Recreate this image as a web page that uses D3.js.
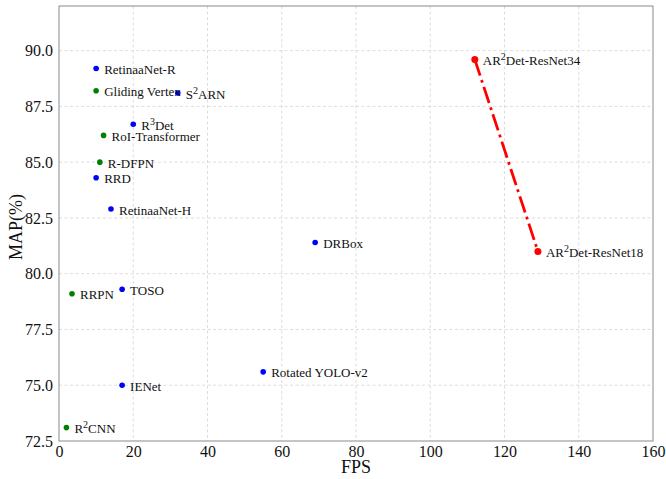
<!DOCTYPE html>
<html>
<head>
<meta charset="utf-8">
<script src="https://cdn.jsdelivr.net/npm/d3@7"></script>
<style>
  html, body { margin: 0; padding: 0; background: #fff; }
  svg { display: block; font-family: "Liberation Serif", "Times New Roman", serif; }
</style>
</head>
<body>
<svg id="chart" width="666" height="479"></svg>
<script>
// ---- data ----
const blueNames = ["RetinaaNet-R", "S|2|ARN", "R|3|Det", "RRD", "RetinaaNet-H", "DRBox", "TOSO", "Rotated YOLO-v2", "IENet"];
const blueFPS   = [10, 32, 20, 10, 14, 69, 17, 55, 17];
const blueMAP   = [89.2, 88.1, 86.7, 84.3, 82.9, 81.4, 79.3, 75.6, 75.0];

const greenNames = ["Gliding Vertex", "RoI-Transformer", "R-DFPN", "RRPN", "R|2|CNN"];
const greenFPS   = [10, 12, 11, 3.5, 2];
const greenMAP   = [88.2, 86.2, 85.0, 79.1, 73.1];

const redNames = ["AR|2|Det-ResNet34", "AR|2|Det-ResNet18"];
const redFPS   = [112, 129];
const redMAP   = [89.6, 81.0];

const xTicks = [0, 20, 40, 60, 80, 100, 120, 140, 160];
const yTicks = [72.5, 75.0, 77.5, 80.0, 82.5, 85.0, 87.5, 90.0];
const xDomain = [0, 160];
const yDomain = [72.5, 92.0];

// ---- layout ----
const W = 666, H = 479;
const m = { left: 59, top: 6, right: 13, bottom: 38 };
const iw = W - m.left - m.right, ih = H - m.top - m.bottom;

const svg = d3.select("#chart");
const g = svg.append("g").attr("transform", `translate(${m.left},${m.top})`);

const x = d3.scaleLinear().domain(xDomain).range([0, iw]);
const y = d3.scaleLinear().domain(yDomain).range([ih, 0]);

// grid
g.append("g").selectAll("line").data(xTicks.filter(t => t > xDomain[0] && t < xDomain[1]))
  .join("line")
  .attr("x1", d => x(d)).attr("x2", d => x(d)).attr("y1", 0).attr("y2", ih)
  .attr("stroke", "#d4d4d4").attr("stroke-width", 0.8).attr("stroke-dasharray", "3,2.5");
g.append("g").selectAll("line").data(yTicks.filter(t => t > yDomain[0] && t < yDomain[1]))
  .join("line")
  .attr("x1", 0).attr("x2", iw).attr("y1", d => y(d)).attr("y2", d => y(d))
  .attr("stroke", "#d4d4d4").attr("stroke-width", 0.8).attr("stroke-dasharray", "3,2.5");

// axes
const xAxis = g.append("g").attr("transform", `translate(0,${ih})`)
  .call(d3.axisBottom(x).tickValues(xTicks).tickSize(0).tickPadding(5).tickFormat(d3.format("d")));
const yAxis = g.append("g")
  .call(d3.axisLeft(y).tickValues(yTicks).tickSize(0).tickPadding(6).tickFormat(d3.format(".1f")));
[xAxis, yAxis].forEach(a => {
  a.select(".domain").remove();
  a.selectAll("text").attr("font-family", "Liberation Serif").attr("font-size", 16).attr("fill", "#111");
});

// frame
g.append("rect").attr("x", 0).attr("y", 0).attr("width", iw).attr("height", ih)
  .attr("fill", "none").attr("stroke", "#8a8a8a").attr("stroke-width", 1);

// titles
svg.append("text").attr("x", m.left + iw / 2).attr("y", 473)
  .attr("text-anchor", "middle").attr("font-size", 18).attr("fill", "#111").text("FPS");
svg.append("text").attr("transform", `translate(22,227) rotate(-90)`)
  .attr("text-anchor", "middle").attr("font-size", 18).attr("fill", "#111").text("MAP(%)");

// label helper with superscript support: "A|2|B"
function label(sel, name) {
  const parts = name.split("|");
  parts.forEach((p, i) => {
    if (i === 1 && parts.length === 3) {
      sel.append("tspan").attr("dy", -5).attr("font-size", 10).text(p);
    } else if (i === 2) {
      sel.append("tspan").attr("dy", 5).text(p);
    } else {
      sel.append("tspan").text(p);
    }
  });
}

// red line
const redPts = redFPS.map((f, i) => [f, redMAP[i]]);
g.append("path").datum(redPts)
  .attr("d", d3.line().x(d => x(d[0])).y(d => y(d[1])))
  .attr("fill", "none").attr("stroke", "#ff0000").attr("stroke-width", 2.8)
  .attr("stroke-dasharray", "17,4.5,2.8,4.5");

function drawSeries(names, fps, map, color, r) {
  const data = names.map((n, i) => ({ n, f: fps[i], v: map[i] }));
  g.append("g").selectAll("circle").data(data).join("circle")
    .attr("cx", d => x(d.f)).attr("cy", d => y(d.v)).attr("r", r).attr("fill", color);
  g.append("g").selectAll("text").data(data).join("text")
    .attr("x", d => x(d.f) + 8).attr("y", d => y(d.v) + 5.5)
    .attr("font-size", 13).attr("fill", "#111")
    .each(function(d) { label(d3.select(this), d.n); });
}
drawSeries(blueNames, blueFPS, blueMAP, "#0000ff", 2.8);
drawSeries(greenNames, greenFPS, greenMAP, "#008000", 2.8);
drawSeries(redNames, redFPS, redMAP, "#ff0000", 3.5);
</script>
</body>
</html>
